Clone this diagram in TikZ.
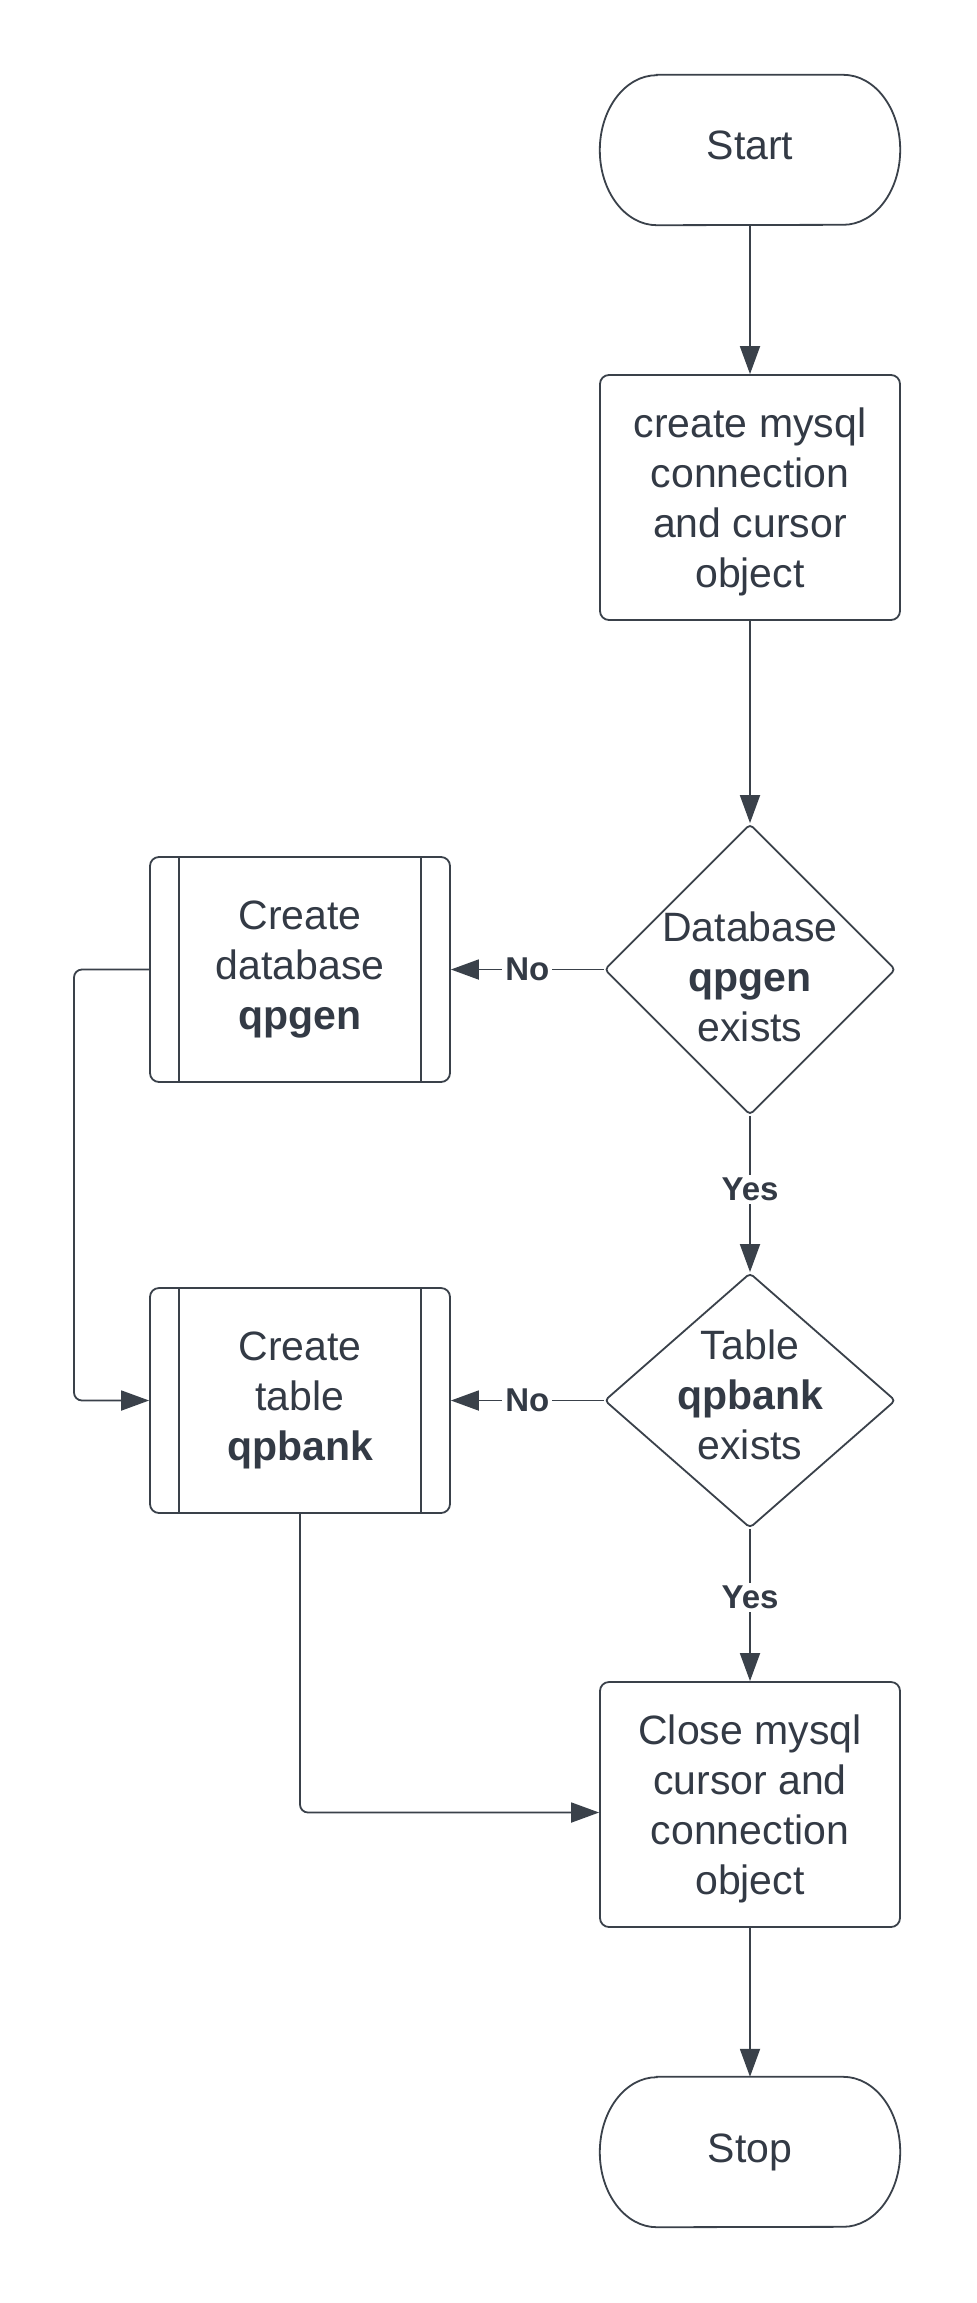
\documentclass[tikz,border=0pt]{standalone}
\usepackage{fontspec}
\setmainfont{Liberation Sans}
\usetikzlibrary{arrows.meta,shapes.geometric}
\definecolor{ink}{RGB}{58,65,74}
\definecolor{txtc}{RGB}{51,58,69}
\begin{document}
\begin{tikzpicture}[x=1pt,y=1pt,
  lbl/.style={font=\fontsize{41}{50}\selectfont, text=txtc, align=center},
  box/.style={lbl, draw=ink, line width=1.8pt, rounded corners=9pt, minimum width=300pt, minimum height=245pt, inner sep=0pt},
  proc/.style={box, minimum height=225pt},
  dia/.style={draw=ink, line width=1.8pt, diamond, inner sep=0pt, minimum width=291pt, minimum height=291pt, rounded corners=4pt},
  term/.style={lbl, minimum width=300pt, minimum height=150pt, inner sep=0pt},
  conn/.style={draw=ink, line width=1.8pt, -{Triangle[length=28pt,width=20pt]}},
  plain/.style={draw=ink, line width=1.8pt},
  elab/.style={font=\fontsize{33}{38}\selectfont\bfseries, text=txtc, fill=white, inner sep=3pt}
]
\fill[white] (0,0) rectangle (977,-2303);
\useasboundingbox (0,0) rectangle (977,-2303);

% nodes
\node[term] (st) at (750,-150) {};
\node[lbl] (stt) at ([yshift=5pt]st.center) {Start};
\node[box] (cr) at (750,-497.5) {};
\node[lbl] (crt) at ([yshift=-4pt]cr.center) {create mysql\\connection\\and cursor\\object};
\node[dia] (d1) at (750,-969.5) {};
\node[lbl] (d1t) at ([yshift=-7pt]d1.center) {Database\\\textbf{qpgen}\\exists};
\node[proc] (cdb) at (300,-969.5) {Create\\database\\\textbf{qpgen}};
\node[dia, minimum height=255pt] (d2) at (750,-1400.5) {};
\node[lbl] (d2t) at ([yshift=6pt]d2.center) {Table\\\textbf{qpbank}\\exists};
\node[proc] (ctb) at (300,-1400.5) {Create\\table\\\textbf{qpbank}};
\node[box] (cl) at (750,-1804.5) {};
\node[lbl] (clt) at ([yshift=-4pt]cl.center) {Close mysql\\cursor and\\connection\\object};
\node[term] (sp) at (750,-2152) {Stop};
\coordinate (lx) at (74,0);

% terminator outlines
\foreach \n in {st,sp}{
  \draw[plain] ([xshift=57pt]\n.north west) -- ([xshift=-57pt]\n.north east)
    arc[start angle=90, end angle=-90, x radius=57pt, y radius=75pt]
    -- ([xshift=57pt]\n.south west)
    arc[start angle=270, end angle=90, x radius=57pt, y radius=75pt] -- cycle;
}
% predefined process inner bars
\foreach \n in {cdb,ctb}{
  \draw[plain] ([xshift=30pt]\n.north west) -- ([xshift=30pt]\n.south west);
  \draw[plain] ([xshift=-30pt]\n.north east) -- ([xshift=-30pt]\n.south east);
}

% connectors
\draw[conn] (st.south) -- (cr.north);
\draw[conn] (cr.south) -- (d1.north);
\draw[conn] (d1.west) -- node[elab]{No} (cdb.east);
\draw[conn] (d1.south) -- node[elab, pos=0.47]{Yes} (d2.north);
\draw[conn] (d2.west) -- node[elab]{No} (ctb.east);
\draw[conn] (d2.south) -- node[elab, pos=0.45]{Yes} (cl.north);
\draw[conn] (cl.south) -- (sp.north);
\draw[conn, rounded corners=8pt] (cdb.west) -- (cdb.west -| lx) -- (ctb.west -| lx) -- (ctb.west);
\draw[conn, rounded corners=8pt] (ctb.south) |- ([yshift=-8pt]cl.west);
\end{tikzpicture}
\end{document}
